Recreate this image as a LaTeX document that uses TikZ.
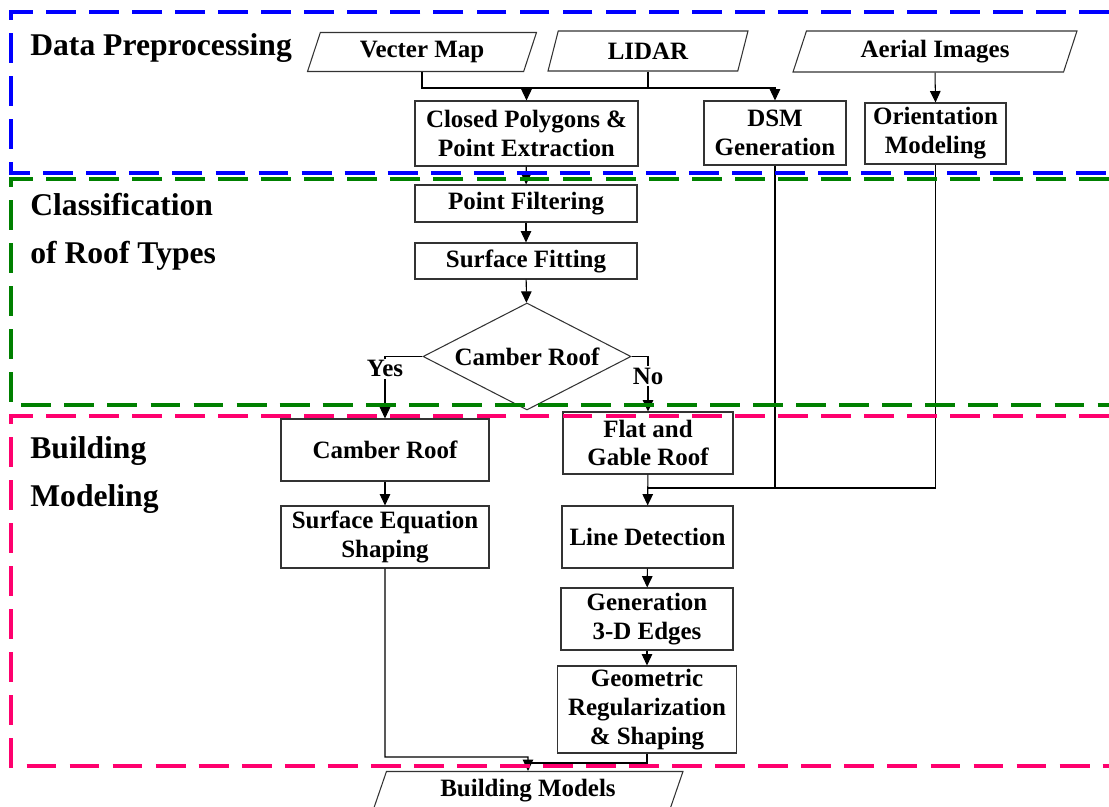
\documentclass[tikz,border=0pt]{standalone}
\usepackage{fontspec}
\setmainfont{Liberation Serif}
\usetikzlibrary{shapes.geometric,arrows.meta}
\definecolor{dpblue}{RGB}{0,0,255}
\definecolor{crgreen}{RGB}{0,128,0}
\definecolor{bmpink}{RGB}{255,0,110}
\tikzset{
  stage/.style={draw=black!80,line width=0.6pt,align=center,inner sep=1pt,
    font=\fontsize{14.2}{16.4}\selectfont\bfseries},
  datain/.style={stage,trapezium,trapezium left angle=63,trapezium right angle=117,
    trapezium stretches body},
  decide/.style={stage,diamond,aspect=2,inner sep=0pt},
  secframe/.style={line width=1.8pt,dash pattern=on 17pt off 7.5pt},
  sect/.style={anchor=west,align=left,inner sep=0pt,font=\fontsize{18}{27}\selectfont\bfseries},
  flow/.style={->,line width=0.6pt},
}
\begin{document}
\begin{tikzpicture}[x=0.02cm,y=-0.02cm,>={Triangle[length=6.5pt,width=6pt]}]
    \useasboundingbox (0,0) rectangle (1109,807);
    % --- data preprocessing
    \node[sect] (dplab) at (30,48) {Data Preprocessing};
    \node[datain,minimum width=4.58cm,minimum height=0.78cm] (vmap) at (422,52) {Vecter Map};
    \node[datain,minimum width=4.0cm,minimum height=0.8cm] (lidar) at (648,51) {LIDAR};
    \node[datain,minimum width=5.68cm,minimum height=0.82cm] (aerial) at (935,51.5) {Aerial Images};
    \node[stage,minimum width=4.46cm,minimum height=1.3cm] (closed) at (526.5,133.5) {Closed Polygons \&\\Point Extraction};
    \node[stage,minimum width=2.84cm,minimum height=1.28cm] (dsm) at (775,133) {DSM\\Generation};
    \node[stage,minimum width=2.82cm,minimum height=1.22cm] (orient) at (935.5,133.5) {Orientation\\Modeling};
    \coordinate (cjoin) at (526.5,88);
    \draw[line width=0.6pt] (vmap.south) |- (cjoin);
    \draw[flow] (lidar.south) |- (cjoin) -- (closed.north);
    \draw[flow] (lidar.south |- cjoin) -| (dsm.north);
    \draw[flow] (aerial.south) -- (orient.north);
    % --- classification of roof types
    \node[sect] (crlab) at (30,232) {Classification\\of Roof Types};
    \node[stage,minimum width=4.44cm,minimum height=0.74cm] (filter) at (526,203.5) {Point Filtering};
    \node[stage,minimum width=4.44cm,minimum height=0.72cm] (fitting) at (526,261) {Surface Fitting};
    \node[decide,minimum width=4.16cm,minimum height=2.14cm] (camber) at (527,356.5) {Camber Roof};
    \draw[flow] (closed) -- (filter);
    \draw[flow] (filter) -- (fitting);
    \draw[flow] (fitting) -- (camber);
    % --- building modeling
    \node[sect] (bmlab) at (30,475) {Building\\Modeling};
    \node[stage,minimum width=4.16cm,minimum height=1.24cm] (cambox) at (385,450) {Camber Roof};
    \node[stage,minimum width=4.16cm,minimum height=1.24cm] (sureq) at (385,537) {Surface Equation\\Shaping};
    \node[stage,minimum width=3.4cm,minimum height=1.24cm] (flat) at (648,443) {Flat and\\Gable Roof};
    \node[stage,minimum width=3.42cm,minimum height=1.24cm] (linedet) at (647.5,537) {Line Detection};
    \node[stage,minimum width=3.44cm,minimum height=1.24cm] (edges) at (647,619) {Generation\\3-D Edges};
    \node[stage,minimum width=3.58cm,minimum height=1.74cm] (georeg) at (647,709.5) {Geometric\\Regularization\\\& Shaping};
    \node[datain,minimum width=6.2cm,minimum height=0.78cm] (models) at (528,791) {Building Models};
    \draw[flow] (camber.west) -| node[pos=0.6,fill=white,inner sep=1pt,font=\fontsize{14.2}{16.4}\selectfont\bfseries] (yes) {Yes} (cambox.north);
    \draw[flow] (camber.east) -| node[pos=0.68,fill=white,inner sep=1pt,font=\fontsize{14.2}{16.4}\selectfont\bfseries] (no) {No} (flat.north);
    \draw[flow] (cambox) -- (sureq);
    \coordinate (ljoin) at (648,488);
    \draw[line width=0.6pt] (orient.south) |- (ljoin);
    \draw[line width=0.6pt] (dsm.south) |- (ljoin);
    \draw[flow] (flat) -- (linedet);
    \draw[flow] (linedet) -- (edges);
    \draw[flow] (edges) -- (georeg);
    \coordinate (bjoin) at (528,757);
    \draw[line width=0.6pt] (georeg.south) |- (528,763);
    \draw[flow] (sureq.south) |- (bjoin) -- (models.north);
    % --- dashed frames
    \draw[secframe,dpblue] (1109,12) -| (11,173) -- (1109,173);
    \draw[secframe,crgreen] (1109,179) -| (11,405) -- (1109,405);
    \draw[secframe,bmpink] (1109,416) -| (11,766) -- (1109,766);
  \end{tikzpicture}
\end{document}
